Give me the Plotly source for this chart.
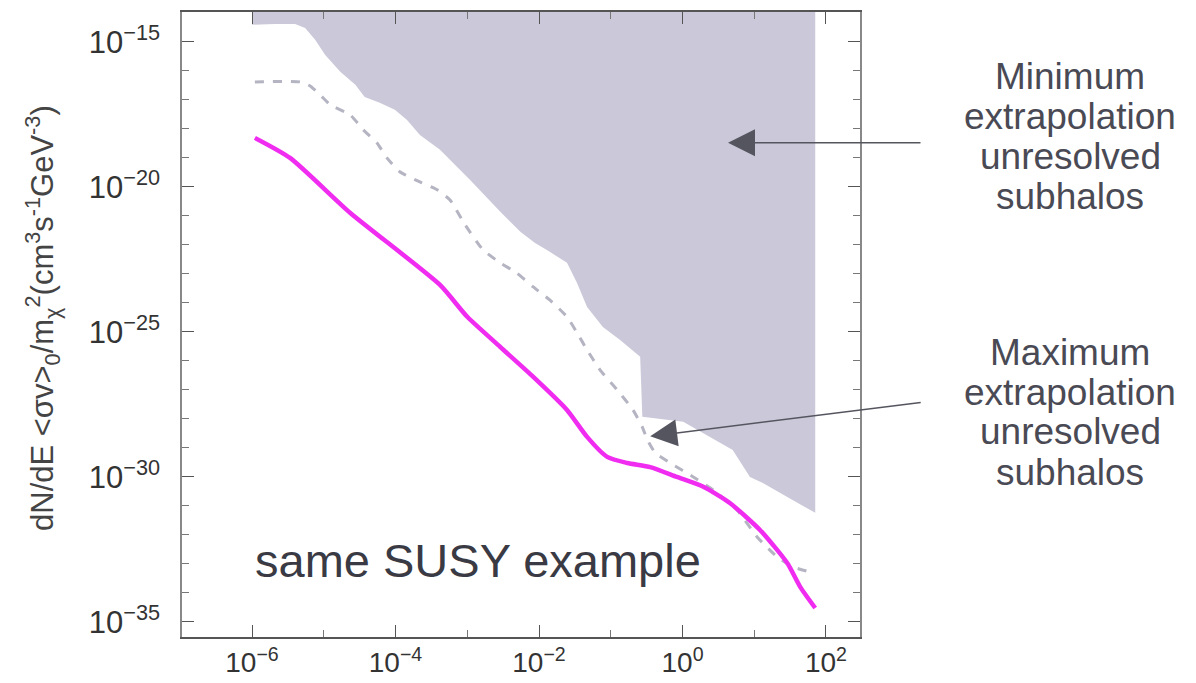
import plotly.graph_objects as go

# ---- data (log10 values) ----
x_ticks = [-6, -4, -2, 0, 2]
x_tick_text = ["10<sup>−6</sup>", "10<sup>−4</sup>", "10<sup>−2</sup>", "10<sup>0</sup>", "10<sup>2</sup>"]
y_ticks = [-15, -20, -25, -30, -35]
y_tick_text = ["10<sup>−15</sup>", "10<sup>−20</sup>", "10<sup>−25</sup>", "10<sup>−30</sup>", "10<sup>−35</sup>"]

# lower boundary of the shaded (minimum extrapolation) region
shade_logx = [-6.0, -5.68, -5.40, -5.26, -5.12, -4.98, -4.77, -4.56, -4.43, -4.22, -4.01,
              -3.84, -3.66, -3.38, -2.96, -2.54, -2.26, -2.06, -1.85, -1.61, -1.47, -1.33,
              -1.11, -0.87, -0.59, -0.56, 0.01, 0.38, 0.70, 0.94, 1.12, 1.46, 1.85]
shade_logy = [-14.41, -14.38, -14.38, -14.52, -14.93, -15.45, -16.03, -16.48, -16.90, -17.10, -17.34,
              -17.69, -18.21, -18.72, -19.76, -20.86, -21.55, -21.93, -22.24, -22.62, -23.31, -24.14,
              -24.83, -25.28, -25.86, -27.93, -28.10, -28.62, -29.07, -30.00, -30.21, -30.69, -31.24]
shade_top_logy = -13.5

# dashed grey curve (maximum extrapolation)
dash_logx = [-5.96, -5.33, -5.19, -5.05, -4.91, -4.63, -4.45, -4.26, -4.12, -3.94, -3.66, -3.42,
             -3.24, -3.03, -2.78, -2.54, -2.31, -2.08, -1.85, -1.61, -1.47, -1.33, -1.15, -0.91,
             -0.69, -0.56, -0.49, -0.38, -0.17, 0.15, 0.43, 0.76, 1.04, 1.32, 1.54, 1.82]
dash_logy = [-16.38, -16.38, -16.52, -16.83, -17.17, -17.52, -18.03, -18.48, -19.00, -19.48, -19.83, -20.10,
             -20.45, -21.31, -22.17, -22.62, -22.97, -23.45, -23.90, -24.48, -25.03, -25.62, -26.31, -27.00,
             -27.69, -28.28, -28.72, -29.17, -29.52, -30.00, -30.45, -31.14, -32.07, -32.76, -33.10, -33.31]

# magenta curve (SUSY example)
susy_logx = [-5.96, -5.47, -4.63, -3.38, -3.00, -2.54, -2.08, -1.61, -1.33, -1.05, -0.77, -0.45,
             -0.08, 0.29, 0.66, 1.08, 1.46, 1.64, 1.85]
susy_logy = [-18.31, -19.00, -20.90, -23.38, -24.48, -25.52, -26.55, -27.69, -28.62, -29.31, -29.52, -29.66,
             -30.00, -30.34, -30.90, -31.83, -32.97, -33.79, -34.52]

x_range = [-6.976, 2.474]
y_range = [-35.52, -13.97]

min_lines = ["Minimum", "extrapolation", "unresolved", "subhalos"]
max_lines = ["Maximum", "extrapolation", "unresolved", "subhalos"]


def p10(v):
    return [10 ** a for a in v]


fig = go.Figure()

# shaded region
sx = p10(shade_logx) + [10 ** shade_logx[-1], 10 ** shade_logx[0]]
sy = p10(shade_logy) + [10 ** shade_top_logy, 10 ** shade_top_logy]
fig.add_trace(go.Scatter(x=sx, y=sy, mode="lines", fill="toself",
                         fillcolor="#cbc9d9", line=dict(width=0, color="#cbc9d9"),
                         hoverinfo="skip", showlegend=False))

fig.add_trace(go.Scatter(x=p10(dash_logx), y=p10(dash_logy), mode="lines",
                         line=dict(color="#b4b4c2", width=3, dash="dash", shape="spline", smoothing=0.5),
                         showlegend=False))

fig.add_trace(go.Scatter(x=p10(susy_logx), y=p10(susy_logy), mode="lines",
                         line=dict(color="#f02cf0", width=4.5, shape="spline", smoothing=0.6),
                         showlegend=False))

FONT = "Liberation Sans, Arial, sans-serif"

fig.update_xaxes(type="log", range=x_range, tickmode="array", tickvals=p10(x_ticks), ticktext=x_tick_text,
                 ticks="inside", ticklen=12, tickwidth=1.2, tickcolor="#555555",
                 minor=dict(tickmode="array", tickvals=p10([-5, -3, -1, 1]), ticks="inside", ticklen=7,
                            tickcolor="#777777", tickwidth=1),
                 showline=True, linecolor="#555555", linewidth=1.5, mirror="ticks", automargin=False,
                 showgrid=False, zeroline=False, tickfont=dict(family=FONT, size=28, color="#333333"),
                 ticklabelstandoff=0)
minor_y = [v for v in range(-35, -13) if v % 5 != 0]
fig.update_yaxes(type="log", range=y_range, tickmode="array", tickvals=p10(y_ticks), ticktext=y_tick_text,
                 ticks="inside", ticklen=12, tickwidth=1.2, tickcolor="#555555",
                 minor=dict(tickmode="array", tickvals=p10(minor_y), ticks="inside", ticklen=7,
                            tickcolor="#777777", tickwidth=1),
                 showline=True, linecolor="#888888", linewidth=1.5, mirror="ticks", automargin=False,
                 showgrid=False, zeroline=False, tickfont=dict(family=FONT, size=31, color="#333333"),
                 ticklabelstandoff=14)

note_font = dict(family=FONT, size=37, color="#4a4a55")


def px_x(px):
    return (px - 182) / 678


def px_y(py):
    return (637 - py) / 625


annotations = [
    dict(text="dN/dE &lt;σv&gt;<sub>0</sub>/m<sub>χ</sub><sup>2</sup>(cm<sup>3</sup>s<sup>-1</sup>GeV<sup>-3</sup>)",
         xref="paper", yref="paper", x=px_x(42), y=px_y(318), textangle=-90,
         showarrow=False, font=dict(family=FONT, size=31, color="#444444"),
         xanchor="center", yanchor="middle"),
    dict(text="same SUSY example", xref="paper", yref="paper", x=px_x(253), y=px_y(560),
         showarrow=False, xanchor="left", yanchor="middle",
         font=dict(family=FONT, size=47, color="#3a3a44")),
    dict(text="", x=0.634, y=-18.48, xref="x", yref="y", showarrow=True, ax=194, ay=0,
         arrowhead=2, arrowsize=3.6, arrowwidth=1.5, arrowcolor="#55555f", standoff=0),
    dict(text="", x=-0.45, y=-28.6, xref="x", yref="y", showarrow=True, ax=272, ay=-34,
         arrowhead=2, arrowsize=3.6, arrowwidth=1.5, arrowcolor="#55555f", standoff=0),
]
for i, t in enumerate(min_lines):
    annotations.append(dict(text=t, xref="paper", yref="paper", x=px_x(1070), y=px_y(76 + 40 * i),
                            showarrow=False, xanchor="center", yanchor="middle", font=note_font))
for i, t in enumerate(max_lines):
    annotations.append(dict(text=t, xref="paper", yref="paper", x=px_x(1070), y=px_y(352 + 40 * i),
                            showarrow=False, xanchor="center", yanchor="middle", font=note_font))

fig.update_layout(width=1196, height=683, margin=dict(l=182, r=336, t=12, b=46),
                  paper_bgcolor="white", plot_bgcolor="white", annotations=annotations,
                  showlegend=False)

fig.write_html("out.html")
